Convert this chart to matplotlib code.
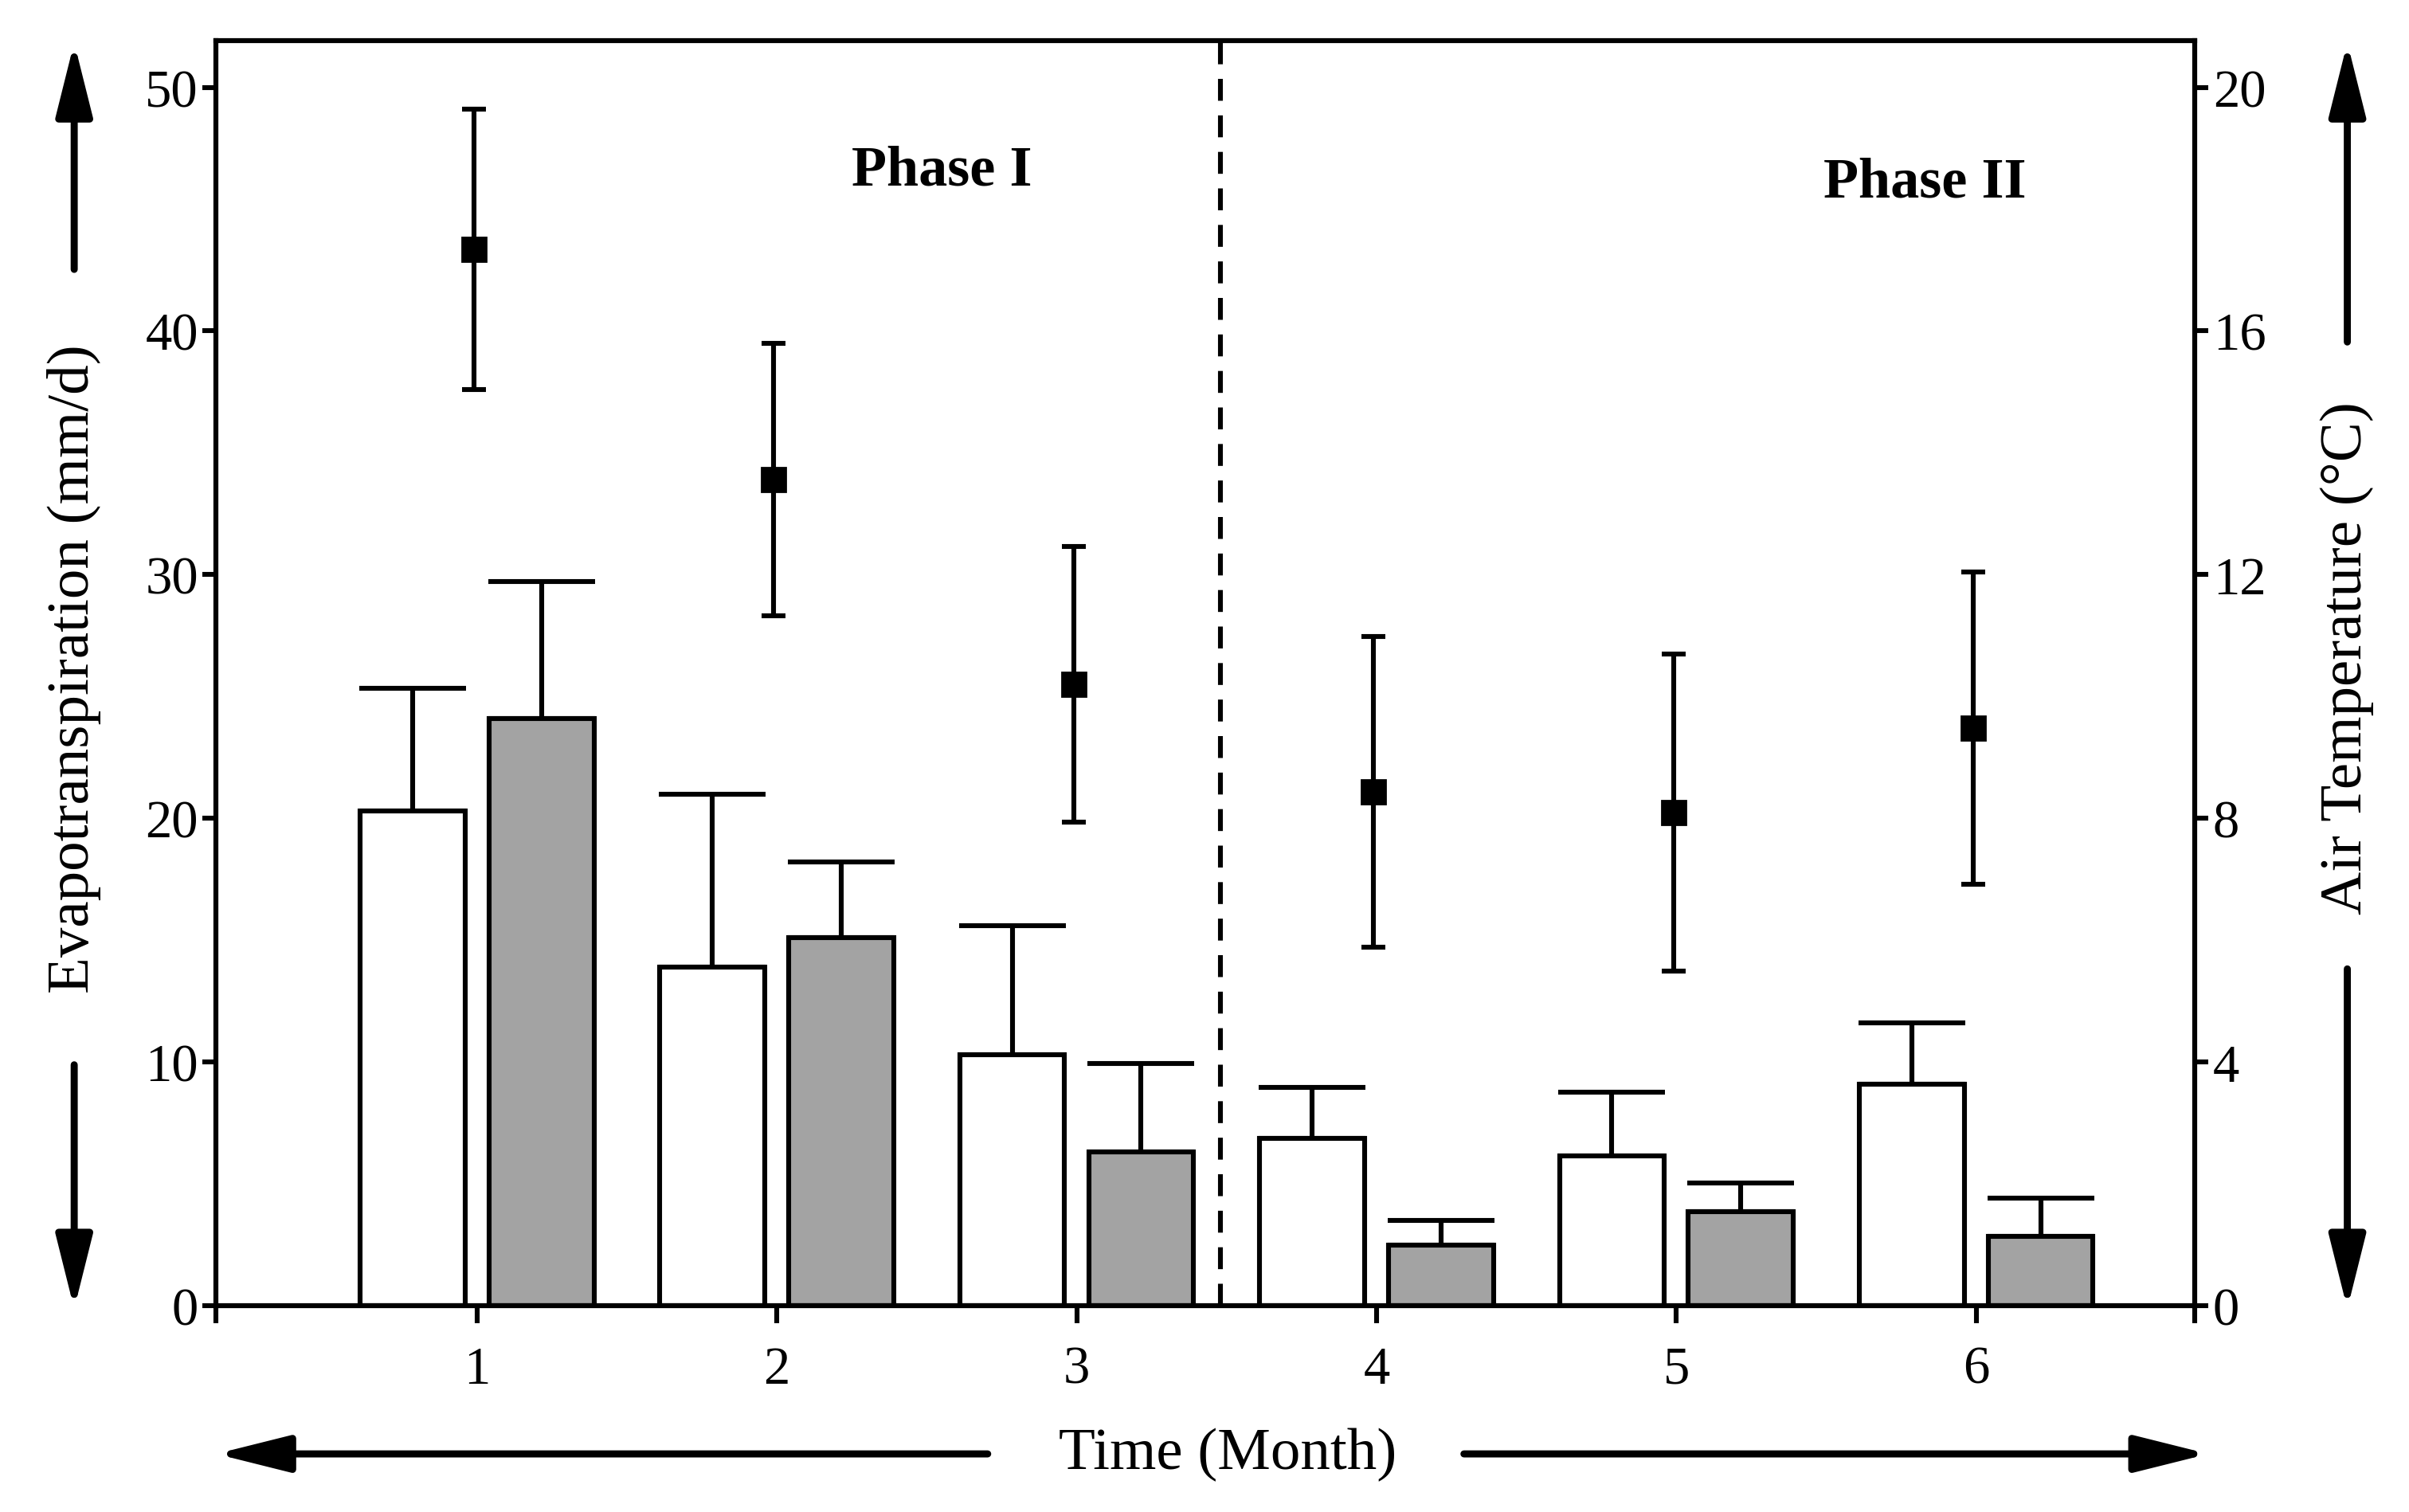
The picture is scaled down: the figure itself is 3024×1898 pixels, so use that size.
import matplotlib
matplotlib.use("Agg")
import matplotlib.pyplot as plt
import numpy as np

plt.rcParams["font.family"] = ["Liberation Serif", "DejaVu Serif"]

months = [1, 2, 3, 4, 5, 6]
et_white = [20.3, 13.9, 10.3, 6.85, 6.15, 9.1]
et_white_err = [5.05, 7.1, 5.3, 2.1, 2.6, 2.5]
et_gray = [24.1, 15.1, 6.3, 2.5, 3.85, 2.85]
et_gray_err = [5.6, 3.1, 3.65, 1.0, 1.2, 1.55]
temp = [17.34, 13.56, 10.2, 8.44, 8.09, 9.48]
temp_err = [2.3, 2.23, 2.26, 2.55, 2.6, 2.56]
phase_labels = ["Phase I", "Phase II"]

fig = plt.figure(figsize=(15.12, 9.495), dpi=200)
ax = fig.add_axes([0.0897, 0.1364, 0.8215, 0.836])

x = np.array(months, dtype=float)
w = 0.35
off = 0.215
lw = 2.2

ax.bar(x - off, et_white, w, color="white", edgecolor="black", linewidth=lw, zorder=2)
ax.bar(x + off, et_gray, w, color="#a3a3a3", edgecolor="black", linewidth=lw, zorder=2)
ax.errorbar(x - off, et_white, yerr=[np.zeros(6), et_white_err], fmt="none",
            ecolor="black", elinewidth=lw, capsize=24, capthick=lw, zorder=1)
ax.errorbar(x + off, et_gray, yerr=[np.zeros(6), et_gray_err], fmt="none",
            ecolor="black", elinewidth=lw, capsize=24, capthick=lw, zorder=1)

ax.axvline(3.48, color="black", linestyle=(0, (4.5, 3)), linewidth=lw)

ax.set_xlim(0.13, 6.73)
ax.set_ylim(0, 51.9)
ax.set_xticks(months)
ax.set_xticks([0.13, 6.73], minor=True)
ax.set_yticks([0, 10, 20, 30, 40, 50])
ax.tick_params(axis="x", which="both", direction="out", length=8, width=lw,
               labelsize=24, pad=10)
ax.tick_params(axis="y", direction="out", length=6, width=lw, labelsize=24, pad=2)
for s in ax.spines.values():
    s.set_linewidth(lw)

ax2 = ax.twinx()
ax2.errorbar(x - 0.01, temp, yerr=temp_err, fmt="s", color="black", markersize=11,
             elinewidth=lw, capsize=5.5, capthick=lw)
ax2.set_ylim(0, 20.76)
ax2.set_yticks([0, 4, 8, 12, 16, 20])
ax2.tick_params(axis="y", direction="out", length=6, width=lw, labelsize=24, pad=2)
for s in ax2.spines.values():
    s.set_linewidth(lw)

ax.text(2.55, 46.6, phase_labels[0], fontsize=26, fontweight="bold", ha="center", va="center")
ax.text(5.83, 46.1, phase_labels[1], fontsize=26, fontweight="bold", ha="center", va="center")

# axis labels with arrows
fig.text(0.0308, 0.558, "Evapotranspiration (mm/d)", rotation=90, fontsize=27,
         ha="center", va="center")
fig.text(0.9744, 0.565, "Air Temperature (°C)", rotation=90, fontsize=27,
         ha="center", va="center")
fig.text(0.5096, 0.0384, "Time (Month)", fontsize=27, ha="center", va="center")

arrow = dict(arrowstyle="-|>,head_length=1.4,head_width=0.35", color="black",
             linewidth=3.2, mutation_scale=20, shrinkA=0, shrinkB=0)
for start, end in [((0.0308, 0.8214), (0.0308, 0.9714)),
                   ((0.0308, 0.2956), (0.0308, 0.1343)),
                   ((0.9744, 0.7734), (0.9744, 0.9714)),
                   ((0.9744, 0.359), (0.9744, 0.1343)),
                   ((0.410, 0.0384), (0.0897, 0.0384)),
                   ((0.6077, 0.0384), (0.9167, 0.0384))]:
    fig.add_artist(matplotlib.patches.FancyArrowPatch(start, end, transform=fig.transFigure,
                                                      **arrow))

fig.savefig("out.png", dpi=200)
